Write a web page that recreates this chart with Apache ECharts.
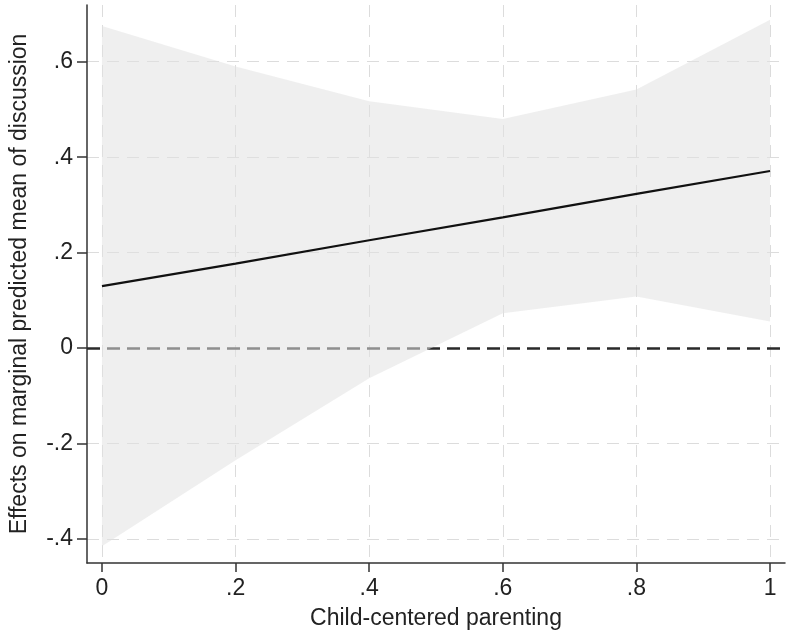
<!DOCTYPE html>
<html>
<head>
<meta charset="utf-8">
<script src="https://cdn.jsdelivr.net/npm/echarts@6/dist/echarts.min.js"></script>
<style>
html,body{margin:0;padding:0;background:#fff;}
#chart{width:787px;height:635px;}
</style>
</head>
<body>
<div id="chart"></div>
<script>
// Data
const xVals = [0, 0.2, 0.4, 0.6, 0.8, 1];
const margins = [0.130, 0.177, 0.226, 0.274, 0.323, 0.371];
const ciLower = [-0.415, -0.235, -0.063, 0.073, 0.108, 0.056];
const ciUpper = [0.675, 0.590, 0.517, 0.480, 0.542, 0.688];
const xTicks = [0, 0.2, 0.4, 0.6, 0.8, 1];
const yTicks = [-0.4, -0.2, 0, 0.2, 0.4, 0.6];
const xTitle = 'Child-centered parenting';
const yTitle = 'Effects on marginal predicted mean of discussion';

function fmt(v) {
  if (Math.abs(v) < 1e-9) return '0';
  const s = String(Math.round(Math.abs(v) * 100) / 100).replace(/^0/, '');
  return (v < 0 ? '-' : '') + s;
}

const FONT = 'Liberation Sans, Arial, sans-serif';
const FS = 23;
const chart = echarts.init(document.getElementById('chart'), null, {renderer: 'canvas'});

const lineData = xVals.map((x, i) => [x, margins[i]]);
const bandData = xVals.map((x, i) => [x, ciLower[i], ciUpper[i]]);

const gridLine = {show: true, lineStyle: {color: '#dcdcdc', width: 1, type: [12, 8]}};

chart.setOption({
  animation: false,
  backgroundColor: '#fff',
  grid: {left: 86, right: 2, top: 5, bottom: 69, containLabel: false},
  xAxis: {
    type: 'value',
    min: -0.0224, max: 1.0224,
    name: xTitle,
    nameLocation: 'middle',
    nameGap: 44,
    nameTextStyle: {fontFamily: FONT, fontSize: FS, color: '#222'},
    axisLine: {show: true, onZero: false, lineStyle: {color: '#333', width: 1.5}},
    axisTick: {show: true, customValues: xTicks, length: 9, lineStyle: {color: '#333', width: 1.5}},
    axisLabel: {customValues: xTicks, formatter: fmt, fontFamily: FONT, fontSize: FS, color: '#222', margin: 14},
    splitLine: gridLine
  },
  yAxis: {
    type: 'value',
    min: -0.45, max: 0.71875,
    name: yTitle,
    nameLocation: 'middle',
    nameGap: 56,
    nameRotate: 90,
    nameTextStyle: {fontFamily: FONT, fontSize: FS, color: '#222'},
    axisLine: {show: true, onZero: false, lineStyle: {color: '#333', width: 1.5}},
    axisTick: {show: true, customValues: yTicks, length: 10, lineStyle: {color: '#333', width: 1.5}},
    axisLabel: {customValues: yTicks, formatter: fmt, fontFamily: FONT, fontSize: FS, color: '#222', margin: 14},
    splitLine: gridLine
  },
  series: [
    {
      type: 'line',
      data: [],
      z: 1,
      silent: true,
      markLine: {
        silent: true,
        z: 1,
        symbol: ['none', 'none'],
        label: {show: false},
        lineStyle: {color: '#2a2a2a', width: 2.5, type: [13, 7]},
        data: [{yAxis: 0}]
      }
    },
    {
      type: 'custom',
      data: bandData,
      z: 3,
      silent: true,
      encode: {x: 0, y: [1, 2]},
      renderItem: function (params, api) {
        if (params.dataIndex !== 0) return null;
        const pts = [];
        for (let i = 0; i < xVals.length; i++) pts.push(api.coord([xVals[i], ciUpper[i]]));
        for (let i = xVals.length - 1; i >= 0; i--) pts.push(api.coord([xVals[i], ciLower[i]]));
        return {type: 'polygon', shape: {points: pts}, style: {fill: 'rgba(226,226,226,0.55)'}};
      }
    },
    {
      type: 'line',
      data: lineData,
      symbol: 'none',
      lineStyle: {color: '#111', width: 2.2},
      z: 5,
      silent: true
    }
  ]
});
</script>
</body>
</html>
